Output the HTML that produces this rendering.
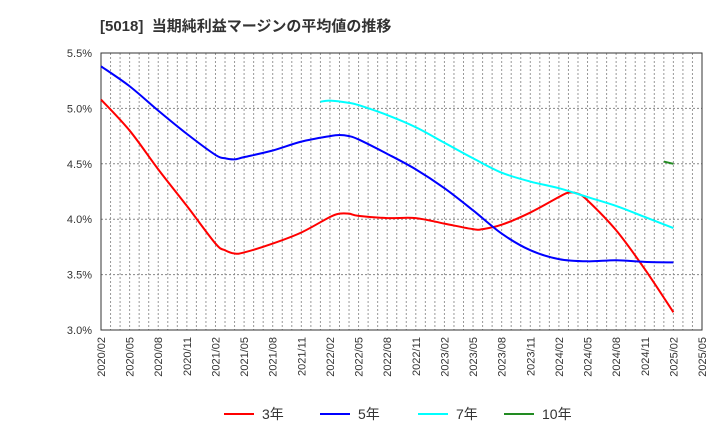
<!DOCTYPE html>
<html><head><meta charset="utf-8"><style>
body{margin:0;background:#fff;font-family:"Liberation Sans","Noto Sans CJK JP",sans-serif;}
</style></head><body>
<svg id="c" width="720" height="440" xmlns="http://www.w3.org/2000/svg">
<text x="100" y="31" font-size="15" font-weight="bold" fill="#333" font-family="Liberation Sans, Noto Sans CJK JP, sans-serif">[5018]&#160; 当期純利益マージンの平均値の推移</text>
<g id="grid"></g><g id="axes"></g><g id="series"></g><g id="legend"></g>
</svg>
<script>
const tickLabels=["2020/02","2020/05","2020/08","2020/11","2021/02","2021/05","2021/08","2021/11","2022/02","2022/05","2022/08","2022/11","2023/02","2023/05","2023/08","2023/11","2024/02","2024/05","2024/08","2024/11","2025/02","2025/05"];
const yTicks=[3.0,3.5,4.0,4.5,5.0,5.5];
const m3=[0,3,6,9,12,13,14,15,18,21,24,25,26,27,30,33,36,39,40,42,45,48,49,50,51,54,57,60];
const v3=[5.08,4.80,4.45,4.12,3.78,3.72,3.69,3.70,3.78,3.88,4.02,4.05,4.05,4.03,4.01,4.01,3.96,3.91,3.91,3.95,4.06,4.20,4.24,4.23,4.17,3.90,3.55,3.16];
const m5=[0,3,6,9,12,13,14,15,18,21,24,25,26,27,30,33,36,39,42,45,48,51,54,57,60];
const v5=[5.38,5.20,4.98,4.77,4.58,4.55,4.54,4.56,4.62,4.70,4.75,4.76,4.75,4.72,4.59,4.45,4.28,4.08,3.87,3.72,3.64,3.62,3.63,3.615,3.61];
const m7=[23,24,26,27,30,33,36,39,42,45,48,51,54,57,60];
const v7=[5.06,5.07,5.05,5.03,4.94,4.83,4.69,4.55,4.42,4.34,4.28,4.20,4.12,4.02,3.92];
const m10=[59,60];
const v10=[4.52,4.50];
const L=101,R=702,T=53,B=330,NM=63;
const X=i=>L+(R-L)*i/NM, Y=v=>B-(v-3.0)/2.5*(B-T);
const NS="http://www.w3.org/2000/svg";
function mk(p,t,a){const e=document.createElementNS(NS,t);for(const k in a)e.setAttribute(k,a[k]);p.appendChild(e);return e;}
const grid=document.getElementById('grid'),axes=document.getElementById('axes'),ser=document.getElementById('series'),leg=document.getElementById('legend');
for(let i=1;i<NM;i++){const g=mk(grid,'line',{x1:X(i),x2:X(i),y1:T,y2:B,stroke:'#999','stroke-dasharray':'2,2','stroke-width':1});

}
yTicks.forEach(v=>{if(v>3&&v<5.5){const g=mk(grid,'line',{x1:L,x2:R,y1:Y(v),y2:Y(v),stroke:'#888','stroke-dasharray':'2,2'});

}
const t=mk(axes,'text',{x:92,y:Y(v)+4,'text-anchor':'end','font-size':11,fill:'#333'});t.textContent=v.toFixed(1)+'%';

});
const fr=mk(axes,'rect',{x:L,y:T,width:R-L,height:B-T,fill:'none',stroke:'#333','stroke-width':1});


tickLabels.forEach((s,k)=>{const x=X(k*3)+4;const t=mk(axes,'text',{x:0,y:0,transform:`translate(${x},337) rotate(-90)`,'text-anchor':'end','font-size':11,fill:'#333'});t.textContent=s;

});
function path(ms,vs){const p=ms.map((m,i)=>[X(m),Y(vs[i])]);let d=`M${p[0][0]},${p[0][1]}`;
for(let i=0;i<p.length-1;i++){const p0=p[i-1]||p[i],p1=p[i],p2=p[i+1],p3=p[i+2]||p2;
d+=` C${p1[0]+(p2[0]-p0[0])/6},${p1[1]+(p2[1]-p0[1])/6} ${p2[0]-(p3[0]-p1[0])/6},${p2[1]-(p3[1]-p1[1])/6} ${p2[0]},${p2[1]}`;}return d;}
const S=[[m3,v3,'#ff0000','3年','series-3yr'],[m5,v5,'#0000ff','5年','series-5yr'],[m7,v7,'#00ffff','7年','series-7yr'],[m10,v10,'#228b22','10年','series-10yr']];
S.forEach(s=>{const e=mk(ser,'path',{d:path(s[0],s[1]),fill:'none',stroke:s[2],'stroke-width':2});

});
const lx=[224,320,418,504];
S.forEach((s,i)=>{const g=mk(leg,'g',{});


mk(g,'line',{x1:lx[i],x2:lx[i]+30,y1:414,y2:414,stroke:s[2],'stroke-width':2});
const t=mk(g,'text',{x:lx[i]+38,y:419,'font-size':14,fill:'#333'});t.textContent=s[3];});
</script>
</body></html>
